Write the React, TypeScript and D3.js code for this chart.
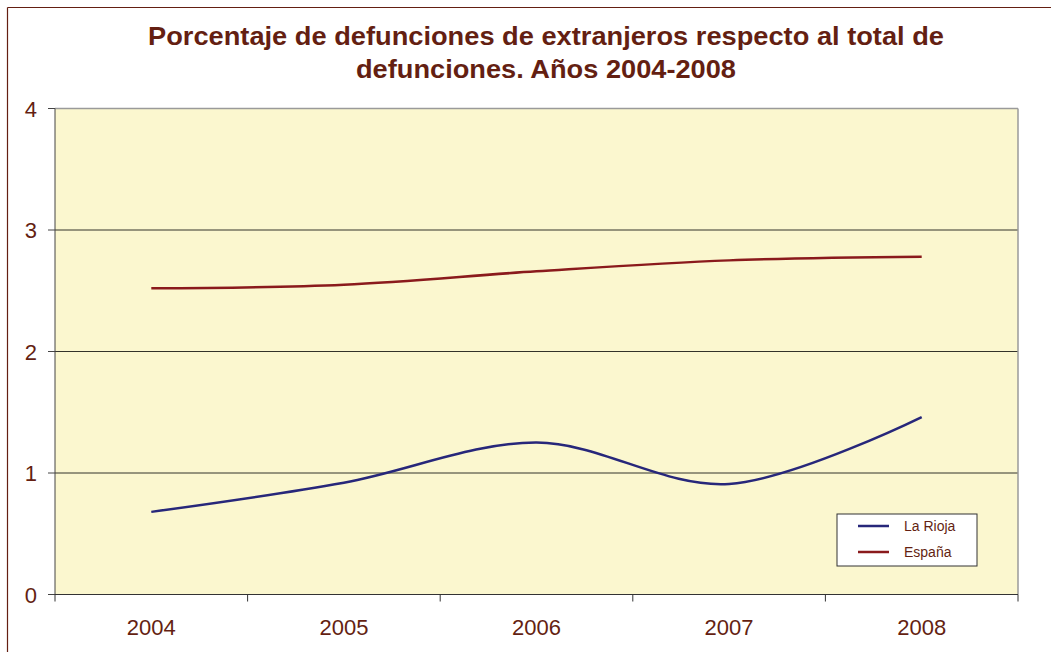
import React from "react";
import * as d3 from "d3";

const years = ["2004", "2005", "2006", "2007", "2008"];
const laRioja = [0.68, 0.92, 1.25, 0.91, 1.46];
const espana = [2.52, 2.55, 2.66, 2.75, 2.78];
const yTicks = [0, 1, 2, 3, 4];
const seriesNames = ["La Rioja", "España"];
const seriesColors = ["#27277a", "#8a1a1c"];

const W = 1051;
const H = 652;
const plot = { left: 55, right: 1018, top: 108.5, bottom: 594.5 };
const brown = "#641f12";
const font = "Arial, 'Liberation Sans', Helvetica, sans-serif";

export default function App() {
  const x = d3.scaleBand<string>().domain(years).range([plot.left, plot.right]);
  const y = d3.scaleLinear().domain([0, 4]).range([plot.bottom, plot.top]);
  const line = d3
    .line<number>()
    .x((_, i) => (x(years[i]) as number) + x.bandwidth() / 2)
    .y((d) => y(d))
    .curve(d3.curveCardinal.tension(0));
  const series = [laRioja, espana];
  const bounds = [...years.map((yr) => x(yr) as number), plot.right];

  return (
    <svg
      width={W}
      height={H}
      style={{ position: "fixed", left: 0, top: 0, background: "#fff" }}
      fontFamily={font}
    >
      <line x1={7.5} y1={7.5} x2={W + 5} y2={7.5} stroke={brown} strokeWidth={1.2} />
      <line x1={7.5} y1={7.5} x2={7.5} y2={H + 5} stroke={brown} strokeWidth={1.2} />
      <text
        x={546}
        y={45}
        textAnchor="middle"
        fontSize={25}
        fontWeight="bold"
        fill={brown}
        textLength={796}
        lengthAdjust="spacingAndGlyphs"
      >
        Porcentaje de defunciones de extranjeros respecto al total de
      </text>
      <text
        x={546}
        y={78}
        textAnchor="middle"
        fontSize={25}
        fontWeight="bold"
        fill={brown}
        textLength={380}
        lengthAdjust="spacingAndGlyphs"
      >
        defunciones. Años 2004-2008
      </text>
      <rect
        x={plot.left}
        y={plot.top}
        width={plot.right - plot.left}
        height={plot.bottom - plot.top}
        fill="#fbf7cf"
      />
      {yTicks.slice(1, 4).map((t) => (
        <line key={t} x1={plot.left} x2={plot.right} y1={y(t)} y2={y(t)} stroke="#000" strokeWidth={0.8} />
      ))}
      <line x1={plot.left} x2={plot.right} y1={plot.top} y2={plot.top} stroke="#9a9a9a" strokeWidth={1.5} />
      <line x1={plot.right} x2={plot.right} y1={plot.top} y2={plot.bottom} stroke="#9a9a9a" strokeWidth={1.5} />
      <line x1={plot.left} x2={plot.left} y1={plot.top} y2={plot.bottom} stroke="#444" strokeWidth={1} />
      <line x1={plot.left} x2={plot.right} y1={plot.bottom} y2={plot.bottom} stroke="#333" strokeWidth={1} />
      {yTicks.map((t) => (
        <g key={t}>
          <line x1={48} x2={plot.left} y1={y(t)} y2={y(t)} stroke="#444" strokeWidth={1} />
          <text x={37} y={y(t) + 8} textAnchor="end" fontSize={22} fill={brown}>
            {t}
          </text>
        </g>
      ))}
      {bounds.map((b, i) => (
        <line key={i} x1={b} x2={b} y1={plot.bottom} y2={plot.bottom + 7} stroke="#333" strokeWidth={1} />
      ))}
      {years.map((yr) => (
        <text
          key={yr}
          x={(x(yr) as number) + x.bandwidth() / 2}
          y={635}
          textAnchor="middle"
          fontSize={22}
          fill={brown}
        >
          {yr}
        </text>
      ))}
      {series.map((s, i) => (
        <path key={i} d={line(s) || ""} fill="none" stroke={seriesColors[i]} strokeWidth={2.5} />
      ))}
      <rect x={837} y={514} width={140} height={52} fill="#fff" stroke="#333" strokeWidth={1} />
      {seriesNames.map((n, i) => (
        <g key={n}>
          <line x1={858} x2={889} y1={526 + i * 26} y2={526 + i * 26} stroke={seriesColors[i]} strokeWidth={2.5} />
          <text x={904} y={531 + i * 26} fontSize={14} fill={brown}>
            {n}
          </text>
        </g>
      ))}
    </svg>
  );
}
